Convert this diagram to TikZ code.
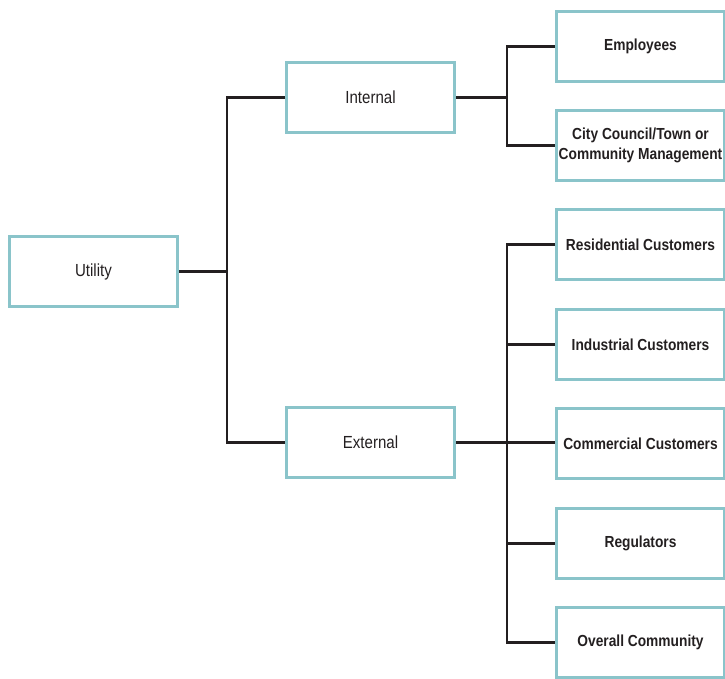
\documentclass[tikz,border=0pt]{standalone}
\usepackage{fontspec}
\setmainfont{Liberation Sans}[FakeStretch=0.86]
\usepackage{tikz}
\definecolor{boxteal}{HTML}{8AC4CA}
\definecolor{linegray}{HTML}{231F20}

\begin{document}
\begin{tikzpicture}[x=1pt,y=-1pt,
	box/.style={rectangle,draw=boxteal,line width=3pt,minimum width=168pt,minimum height=70pt,
		text=linegray,font=\fontsize{17.5}{20}\selectfont,align=center,inner sep=0pt},
	leaf/.style={box,font=\fontsize{16}{20.5}\selectfont\bfseries},
	link/.style={draw=linegray,line width=2.6pt}]
\useasboundingbox (0,0) rectangle (725,679);
\node [box] (utility) at (93.5,271.5) {Utility};
\node [box] (internal) at (370.5,97.5) {Internal};
\node [box] (external) at (370.5,442.5) {External};
\node [leaf] (employees) at (640.5,46.5) {Employees};
\node [leaf] (council) at (640.5,145.5) {City Council/Town or\\Community Management};
\node [leaf] (residential) at (640.5,244.5) {Residential Customers};
\node [leaf] (industrial) at (640.5,344.5) {Industrial Customers};
\node [leaf] (commercial) at (640.5,443.5) {Commercial Customers};
\node [leaf] (regulators) at (640.5,543.5) {Regulators};
\node [leaf] (community) at (640.5,642.5) {Overall Community};
% forks
\coordinate (forkA) at (227,0);
\coordinate (forkB) at (507,0);
\draw [link] (utility.east) -- (utility.east -| forkA);
\draw [link] (internal.west) -| (forkA |- utility.east) |- (external.west);
\draw [link] (internal.east) -- (internal.east -| forkB);
\draw [link] (employees.west) -| (forkB |- internal.east) |- (council.west);
\draw [link] (external.east) -- (external.east -| commercial.west);
\draw [link] (residential.west) -| (forkB |- community.west) -- (community.west);
\draw [link] (industrial.west) -- (industrial.west -| forkB);
\draw [link] (regulators.west) -- (regulators.west -| forkB);
\end{tikzpicture}
\end{document}
